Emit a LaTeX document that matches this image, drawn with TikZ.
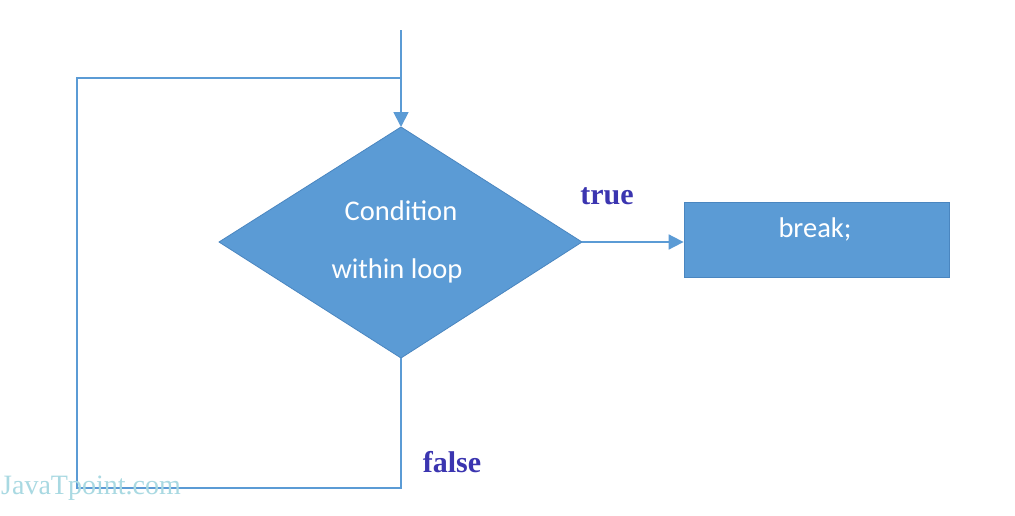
\documentclass[tikz,border=0pt]{standalone}
\usepackage{fontspec}
\setmainfont{Liberation Serif}
\newfontfamily\bodyfont{Carlito}
\usetikzlibrary{shapes.geometric,arrows.meta}
\definecolor{flowblue}{HTML}{5B9BD5}
\definecolor{flowedge}{HTML}{4A86C0}
\definecolor{labelblue}{HTML}{3B35B0}
\definecolor{markcyan}{HTML}{A9D9E2}
\begin{document}
\begin{tikzpicture}[x=1pt,y=-1pt,
  flowline/.style={draw=flowblue,line width=1.8pt},
  flowarrow/.style={flowline,-{Triangle[length=15pt,width=15pt]}},
  boxtext/.style={text=white,font=\bodyfont\fontsize{28.5}{32}\selectfont},
  branchlabel/.style={text=labelblue,font=\bfseries\fontsize{30}{34}\selectfont}]
\useasboundingbox (0,0) rectangle (1015,515);
\fill[white] (0,0) rectangle (1015,515);
% decision diamond
\fill[flowblue,draw=flowedge,line width=0.8pt] (219,242) -- (401,127) -- (582,242) -- (401,358) -- cycle;
\coordinate (dtop) at (401,127);
\coordinate (dright) at (582,242);
\coordinate (dbottom) at (401,358);
\node[boxtext] (c1) at (401,211) {Condition};
\node[boxtext] (c2) at (397,271) {within loop};
% break box
\node[draw=flowedge,fill=flowblue,line width=0.8pt,minimum width=265pt,minimum height=75pt,inner sep=0pt] (brk) at (816.5,239.5) {};
\node[boxtext] (brktext) at (815,229) {break;};
% connectors
\coordinate (entry) at (401,30);
\coordinate (join) at (401,78);
\coordinate (tl) at (77,78);
\coordinate (bl) at (77,488);
\coordinate (br) at (401,488);
\draw[flowarrow] (entry) -- (dtop);
\draw[flowline,line join=miter] (dbottom) -- (br) -- (bl) -- (tl) -- (join);
\draw[flowarrow] (dright) -- (dright -| brk.west);
% labels
\node[branchlabel] (truelbl) at (607,196) {true};
\node[branchlabel] (falselbl) at (452,462) {false};
\node[text=markcyan,font=\fontsize{28}{32}\selectfont,anchor=west,inner sep=0pt] (mark) at (1,488) {JavaTpoint.com};
\end{tikzpicture}
\end{document}
